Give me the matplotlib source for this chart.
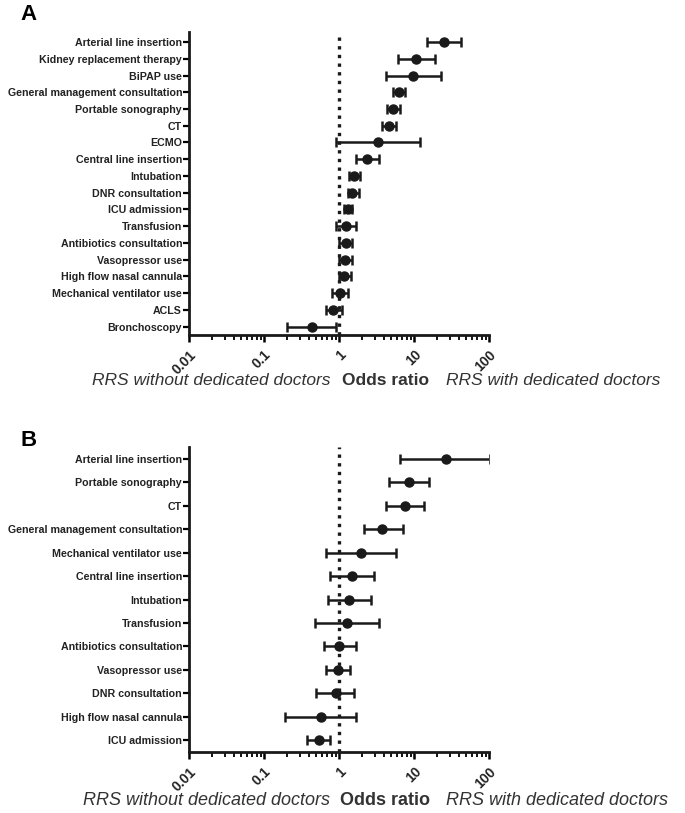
import numpy as np
import matplotlib
matplotlib.use('Agg')
import matplotlib.pyplot as plt
from matplotlib.ticker import LogLocator, FixedLocator, NullFormatter

plt.rcParams['font.family'] = ['Liberation Sans', 'DejaVu Sans']

# Panel A data
labels_a = ['Arterial line insertion', 'Kidney replacement therapy', 'BiPAP use',
            'General management consultation', 'Portable sonography', 'CT', 'ECMO',
            'Central line insertion', 'Intubation', 'DNR consultation', 'ICU admission',
            'Transfusion', 'Antibiotics consultation', 'Vasopressor use',
            'High flow nasal cannula', 'Mechanical ventilator use', 'ACLS', 'Bronchoscopy']
or_a = [25, 10.6, 9.8, 6.3, 5.2, 4.7, 3.3, 2.35, 1.58, 1.5, 1.32, 1.24, 1.24, 1.22,
        1.18, 1.03, 0.83, 0.44]
lo_a = [15, 6.1, 4.2, 5.3, 4.3, 3.8, 0.9, 1.7, 1.35, 1.32, 1.15, 0.9, 1.0, 1.0,
        1.0, 0.8, 0.67, 0.2]
hi_a = [42, 19, 23, 7.6, 6.5, 5.8, 12, 3.4, 1.9, 1.85, 1.48, 1.7, 1.5, 1.48,
        1.45, 1.32, 1.08, 0.91]

# Panel B data
labels_b = ['Arterial line insertion', 'Portable sonography', 'CT',
            'General management consultation', 'Mechanical ventilator use',
            'Central line insertion', 'Intubation', 'Transfusion',
            'Antibiotics consultation', 'Vasopressor use', 'DNR consultation',
            'High flow nasal cannula', 'ICU admission']
or_b = [27, 8.7, 7.5, 3.8, 1.95, 1.47, 1.37, 1.27, 1.0, 0.96, 0.9, 0.57, 0.54]
lo_b = [6.5, 4.7, 4.2, 2.15, 0.67, 0.76, 0.72, 0.48, 0.64, 0.68, 0.5, 0.19, 0.38]
hi_b = [102, 16, 13.5, 7.1, 5.8, 2.9, 2.65, 3.4, 1.67, 1.4, 1.58, 1.67, 0.76]

W, H = 685, 813
fig = plt.figure(figsize=(W / 100, H / 100), dpi=100)


def panel(rect, labels, ors, los, his, ylim):
    l, t, r, b = rect
    ax = fig.add_axes([l / W, 1 - b / H, (r - l) / W, (b - t) / H])
    y = np.arange(len(labels))
    ors = np.array(ors)
    err = [ors - np.array(los), np.array(his) - ors]
    ax.errorbar(ors, y, xerr=err, fmt='o', color='#1a1a1a', ms=6.5, elinewidth=1.8,
                capsize=3.5, capthick=1.8, zorder=3)
    ax.axvline(1, color='#1a1a1a', ls=(0, (1, 1.6)), lw=2.4, zorder=2)
    ax.set_xscale('log')
    ax.set_xlim(0.01, 100)
    ax.set_ylim(*ylim)
    ax.set_yticks(y)
    ax.set_yticklabels(labels, fontsize=7.7, fontweight='bold', color='#222222')
    ax.xaxis.set_major_locator(FixedLocator([0.01, 0.1, 1, 10, 100]))
    ax.set_xticklabels(['0.01', '0.1', '1', '10', '100'], fontsize=10,
                       fontweight='bold', rotation=45, ha='right', va='top',
                       rotation_mode='anchor', color='#222222')
    ax.xaxis.set_minor_locator(LogLocator(base=10, subs=np.arange(2, 10)))
    ax.xaxis.set_minor_formatter(NullFormatter())
    for s in ['top', 'right']:
        ax.spines[s].set_visible(False)
    for s in ['left', 'bottom']:
        ax.spines[s].set_linewidth(2.0)
        ax.spines[s].set_color('#1a1a1a')
    ax.tick_params(axis='x', which='major', length=5, width=1.8, direction='out', pad=4)
    ax.tick_params(axis='x', which='minor', length=3.5, width=1.3, direction='out')
    ax.tick_params(axis='y', length=4, width=1.6, direction='out', pad=1)
    return ax


panel((189, 32, 489, 335), labels_a, or_a, lo_a, hi_a, (17.5, -0.6))
panel((189, 447, 489, 752), labels_b, or_b, lo_b, hi_b, (12.5, -0.5))

fig.text(20 / W, 1 - 15 / H, 'A', fontsize=16, fontweight='bold', va='center', ha='left')
fig.text(20 / W, 1 - 440 / H, 'B', fontsize=16, fontweight='bold', va='center', ha='left')

for yy, fs in ((380, 12.5), (800, 13)):
    fig.text(330 / W, 1 - yy / H, 'RRS without dedicated doctors', fontsize=fs,
             style='italic', color='#333333', ha='right', va='center')
    fig.text(385 / W, 1 - yy / H, 'Odds ratio', fontsize=fs, fontweight='bold',
             color='#333333', ha='center', va='center')
    fig.text(446 / W, 1 - yy / H, 'RRS with dedicated doctors', fontsize=fs,
             style='italic', color='#333333', ha='left', va='center')

fig.savefig('out.png', dpi=100, facecolor='white')
